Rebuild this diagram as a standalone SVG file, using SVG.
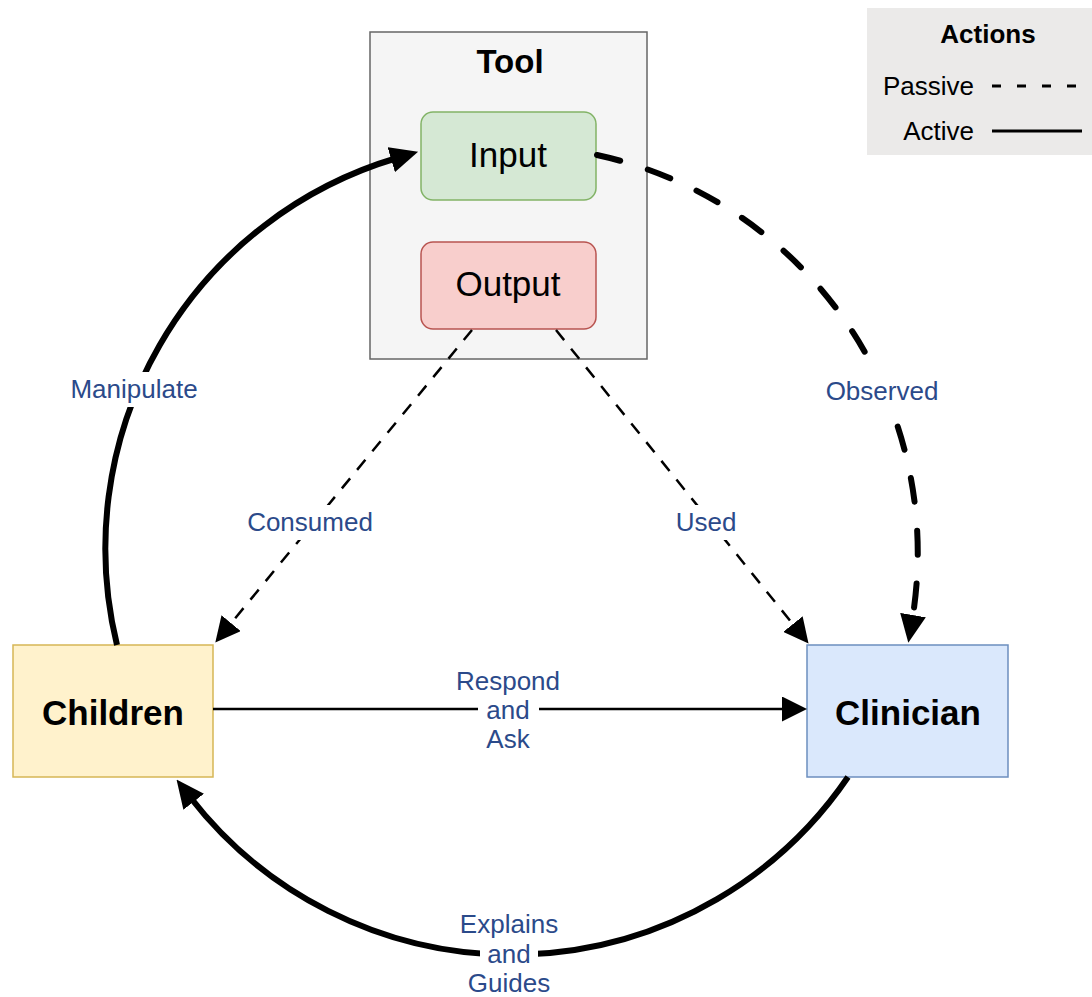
<svg xmlns="http://www.w3.org/2000/svg" width="1092" height="997" viewBox="0 0 1092 997">
<style>
text{font-family:"Liberation Sans",Arial,Helvetica,sans-serif;fill:#000}
.lbl{font-size:26px;fill:#2b4a8a;text-anchor:middle}
.node{font-size:35px;text-anchor:middle}
.b{font-weight:bold}
.bg{fill:#fff;stroke:none}
.thick{fill:none;stroke:#000;stroke-width:6}
.thin{fill:none;stroke:#000;stroke-width:2.5}
</style>
<defs>
<marker id="ahB" viewBox="0 0 28 26" refX="6" refY="13" markerWidth="28" markerHeight="26" markerUnits="userSpaceOnUse" orient="auto"><path d="M0,0 L28,13 L0,26 Z" fill="#000"/></marker>
<marker id="ahS" viewBox="0 0 25 25" refX="5" refY="12.5" markerWidth="25" markerHeight="25" markerUnits="userSpaceOnUse" orient="auto"><path d="M0,0 L25,12.5 L0,25 Z" fill="#000"/></marker>
</defs>
<rect width="1092" height="997" fill="#fff"/>

<g id="legend">
<rect x="867" y="8" width="240" height="147" fill="#ebeae9"/>
<text x="988" y="43" class="b" font-size="26" text-anchor="middle">Actions</text>
<text x="974" y="95" font-size="26" text-anchor="end">Passive</text>
<text x="974" y="140" font-size="26" text-anchor="end">Active</text>
<line x1="992" y1="86" x2="1082" y2="86" stroke="#000" stroke-width="3" stroke-dasharray="9 16"/>
<line x1="992" y1="131" x2="1082" y2="131" stroke="#000" stroke-width="3"/>
</g>

<g id="tool">
<rect x="370" y="32" width="277" height="327" fill="#f5f5f5" stroke="#666" stroke-width="1.5"/>
<text x="510" y="73" class="b" font-size="33" text-anchor="middle">Tool</text>
</g>
<g id="input">
<rect x="421" y="112" width="175" height="88" rx="12" fill="#d5e8d4" stroke="#82b366" stroke-width="1.5"/>
<text x="508" y="167" class="node">Input</text>
</g>
<g id="output">
<rect x="421" y="242" width="175" height="87" rx="12" fill="#f8cecc" stroke="#b85450" stroke-width="1.5"/>
<text x="508" y="296" class="node">Output</text>
</g>
<g id="children">
<rect x="13" y="645" width="200" height="132" fill="#fff2cc" stroke="#d6b656" stroke-width="1.5"/>
<text x="113" y="725" class="node b">Children</text>
</g>
<g id="clinician">
<rect x="807" y="645" width="201" height="132" fill="#dae8fc" stroke="#6c8ebf" stroke-width="1.5"/>
<text x="908" y="725" class="node b">Clinician</text>
</g>

<g id="connectors">
<path class="thick" d="M117 645 A407 407 0 0 1 397 158" marker-end="url(#ahB)"/>
<path class="thick" d="M597 155 A407 407 0 0 1 912 621" stroke-dasharray="24 29" stroke-linecap="round" marker-end="url(#ahB)"/>
<path class="thick" d="M848 777 A407 407 0 0 1 190 797" marker-end="url(#ahB)"/>
<path class="thin" d="M472 330 L228 627" stroke-dasharray="13 11" marker-end="url(#ahS)"/>
<path class="thin" d="M556 330 L796 628" stroke-dasharray="13 11" marker-end="url(#ahS)"/>
<path class="thin" d="M213 709 L787 709" stroke-width="3" marker-end="url(#ahS)"/>

<rect class="bg" x="68" y="372" width="133" height="35"/>
<text class="lbl" x="134" y="398">Manipulate</text>
<rect class="bg" x="822" y="373" width="120" height="36"/>
<text class="lbl" x="882" y="400">Observed</text>
<rect class="bg" x="244" y="505" width="133" height="35"/>
<text class="lbl" x="310" y="531">Consumed</text>
<rect class="bg" x="673" y="505" width="66" height="35"/>
<text class="lbl" x="706" y="531">Used</text>
<rect class="bg" x="478" y="697" width="61" height="25"/>
<text class="lbl" x="508" y="690">Respond</text>
<text class="lbl" x="508" y="719">and</text>
<text class="lbl" x="508" y="748">Ask</text>
<rect class="bg" x="480" y="941" width="58" height="26"/>
<text class="lbl" x="509" y="933">Explains</text>
<text class="lbl" x="509" y="963">and</text>
<text class="lbl" x="509" y="992">Guides</text>
</g>
</svg>
